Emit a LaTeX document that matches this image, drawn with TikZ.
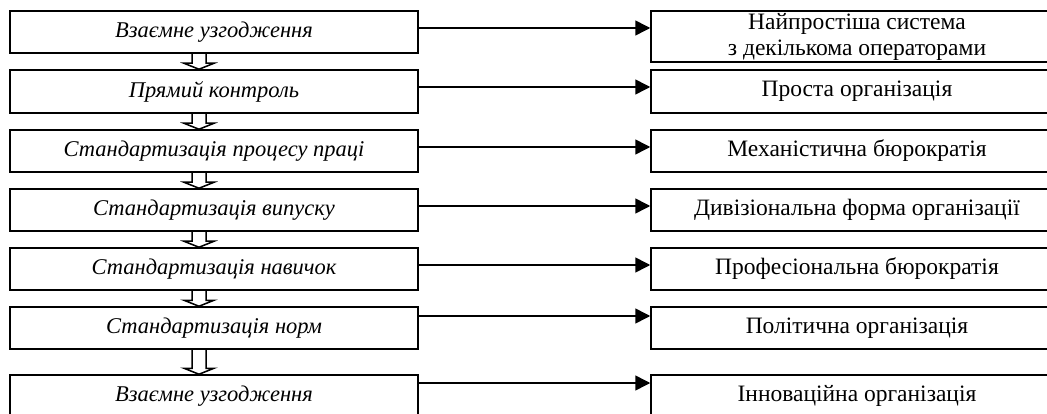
\documentclass[tikz,border=0pt]{standalone}
\usepackage{fontspec}
\setmainfont{Liberation Serif}
\usetikzlibrary{arrows.meta,calc}
\tikzset{
  lbox/.style={draw,line width=1.5pt,minimum width=408pt,inner sep=0pt,font=\itshape\fontsize{22.5}{26}\selectfont},
  rbox/.style={draw,line width=1.5pt,minimum width=412pt,inner sep=0pt,align=center,font=\fontsize{23.5}{26}\selectfont},
  link/.style={line width=1.5pt,-{Triangle[length=15pt,width=15pt]}},
  hollow/.style={line width=1.5pt}
}
\newcommand{\hollowarrow}[2]{%
  \draw[hollow] ($(#1.south)+(-22,0)$) -- ($(#1.south -| #2.north)+(-22,0)$) -- ($(#2.north)+(-22,-6)$)
    -- ($(#2.north)+(-30,-6)$) -- ($(#2.north)+(-15,0)$) -- ($(#2.north)+(0,-6)$)
    -- ($(#2.north)+(-8,-6)$) -- ($(#1.south)+(-8,0)$);}
\begin{document}
\begin{tikzpicture}[x=1pt,y=-1pt]
\useasboundingbox (0,0) rectangle (1047,414);
\clip (0,0) rectangle (1047,414);
\node[lbox,minimum height=42pt] (l1) at (214,32) {Взаємне узгодження};
\node[lbox,minimum height=43pt] (l2) at (214,91.5) {Прямий контроль};
\node[lbox,minimum height=42pt] (l3) at (214,151) {Стандартизація процесу праці};
\node[lbox,minimum height=42pt] (l4) at (214,210) {Стандартизація випуску};
\node[lbox,minimum height=42pt] (l5) at (214,269) {Стандартизація навичок};
\node[lbox,minimum height=42pt] (l6) at (214,328) {Стандартизація норм};
\node[lbox,minimum height=42pt] (l7) at (214,396) {Взаємне узгодження};
\node[rbox,minimum height=51pt] (r1) at (857,36.5) {Найпростіша система\\з декількома операторами};
\node[rbox,minimum height=43pt] (r2) at (857,91.5) {Проста організація};
\node[rbox,minimum height=42pt] (r3) at (857,151) {Механістична бюрократія};
\node[rbox,minimum height=42pt] (r4) at (857,210) {Дивізіональна форма організації};
\node[rbox,minimum height=42pt] (r5) at (857,269) {Професіональна бюрократія};
\node[rbox,minimum height=42pt] (r6) at (857,328) {Політична організація};
\node[rbox,minimum height=42pt] (r7) at (857,396) {Інноваційна організація};
\draw[link] ([yshift=4pt]l1.east) -- ([yshift=4pt]l1.east -| r1.west);
\draw[link] ([yshift=4.5pt]l2.east) -- ([yshift=4.5pt]l2.east -| r2.west);
\draw[link] ([yshift=4pt]l3.east) -- ([yshift=4pt]l3.east -| r3.west);
\draw[link] ([yshift=4pt]l4.east) -- ([yshift=4pt]l4.east -| r4.west);
\draw[link] ([yshift=4pt]l5.east) -- ([yshift=4pt]l5.east -| r5.west);
\draw[link] ([yshift=12pt]l6.east) -- ([yshift=12pt]l6.east -| r6.west);
\draw[link] ([yshift=13pt]l7.east) -- ([yshift=13pt]l7.east -| r7.west);
\hollowarrow{l1}{l2}
\hollowarrow{l2}{l3}
\hollowarrow{l3}{l4}
\hollowarrow{l4}{l5}
\hollowarrow{l5}{l6}
\hollowarrow{l6}{l7}
\end{tikzpicture}
\end{document}
